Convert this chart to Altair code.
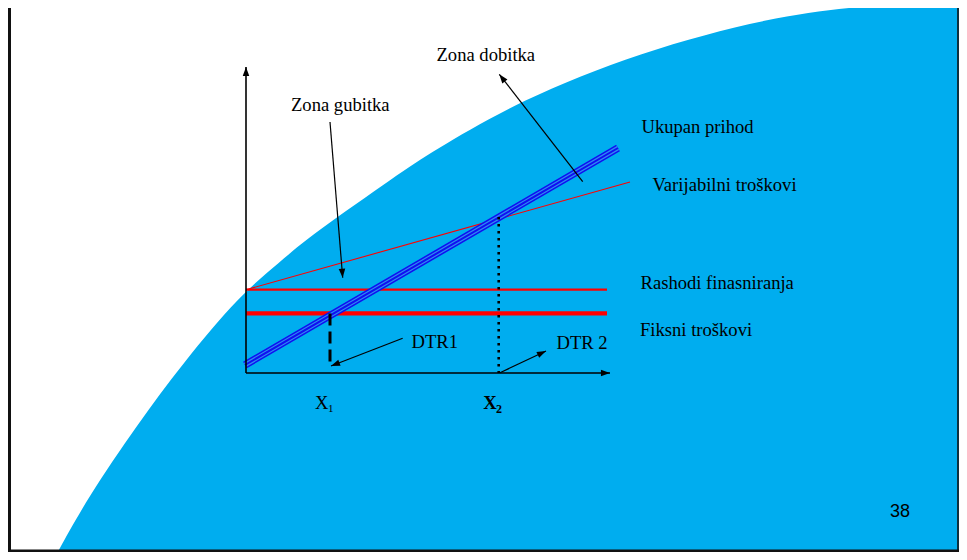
import altair as alt
import numpy as np
import pandas as pd

# ---- slide coordinate frame (slide pixels, y grows downwards) ----
X_MIN, X_MAX = 8, 959
Y_MIN, Y_MAX = 8, 552

# ---- blue background arc (edge points) ----
bg_x = [55, 88, 137, 183, 240, 280, 310, 400, 430, 520, 640, 770, 867, 967]
bg_y = [557, 497, 425, 363, 295, 262, 236, 173, 153, 100, 52, 17, 5, 1]
bg_bottom = 560

# ---- cost / revenue lines of the break-even diagram ----
line_names = ["Fiksni troškovi", "Rashodi finasniranja", "Varijabilni troškovi"]
line_x1 = [246, 246, 246]
line_y1 = [313.3, 289.7, 289.7]
line_x2 = [607, 607, 630]
line_y2 = [313.3, 289.7, 182]
line_w = [4.2, 2.2, 1.1]

tr_x1, tr_y1, tr_x2, tr_y2 = [245], [365], [618], [148]

# ---- break-even guides ----
x1_guide = dict(x1=[330], y1=[313.5], x2=[330], y2=[367])
x2_guide = dict(x1=[498.7], y1=[217], x2=[498.7], y2=[373])

# ---- arrows (shaft start -> tip) ----
arrow_names = ["y os", "x os", "Zona gubitka", "Zona dobitka", "DTR1", "DTR 2"]
arr_x1 = [246, 246, 330, 582.7, 402.7, 500]
arr_y1 = [373, 373, 122, 181.7, 338.3, 372.7]
arr_x2 = [246, 610, 342.7, 499.3, 331, 546]
arr_y2 = [67, 373, 277.7, 74.3, 366, 351]
arr_w = [1.6, 1.6, 1.2, 1.2, 1.2, 1.2]

# ---- labels ----
lab_text = ["Zona dobitka", "Zona gubitka", "Ukupan prihod", "Varijabilni troškovi",
            "Rashodi finasniranja", "Fiksni troškovi", "DTR1", "DTR 2", "X"]
lab_x = [436.5, 291, 641.5, 652.5, 640.5, 640, 411.5, 556.5, 315]
lab_y = [60.5, 111, 132.5, 191, 289, 335.5, 347.5, 349, 408.5]

sub_text = ["1"]
sub_x = [328]
sub_y = [412]

bold_text = ["X"]
bold_x = [483.3]
bold_y = [408.5]
bold_sub_text = ["2"]
bold_sub_x = [496]
bold_sub_y = [412.5]

page_text = ["38"]
page_x = [890]
page_y = [517]

# ---- frame of the slide ----
frame_x1 = [9.5, 8, 958]
frame_y1 = [8, 550.8, 8]
frame_x2 = [9.5, 959, 958]
frame_y2 = [552, 550.8, 552]
frame_w = [3, 2.6, 1.6]

BG_BLUE = "#00ADEF"

xs = alt.Scale(domain=[X_MIN, X_MAX], nice=False, zero=False)
ys = alt.Scale(domain=[Y_MIN, Y_MAX], nice=False, zero=False, reverse=True)


def seg_enc():
    return dict(
        x=alt.X("x1:Q", scale=xs, axis=None),
        y=alt.Y("y1:Q", scale=ys, axis=None),
        x2="x2:Q",
        y2="y2:Q",
    )


bg_df = pd.DataFrame({"x": bg_x, "y": bg_y})
background = alt.Chart(bg_df).mark_area(
    color=BG_BLUE, interpolate="basis", clip=True
).encode(
    x=alt.X("x:Q", scale=xs, axis=None),
    y=alt.Y("y:Q", scale=ys, axis=None),
    y2=alt.datum(bg_bottom),
)

lines_df = pd.DataFrame({"name": line_names, "x1": line_x1, "y1": line_y1,
                         "x2": line_x2, "y2": line_y2, "w": line_w})
red_lines = alt.Chart(lines_df).mark_rule(color="#FF0000", strokeCap="butt").encode(
    **seg_enc(), strokeWidth=alt.StrokeWidth("w:Q", scale=None)
)

tr_df = pd.DataFrame({"x1": tr_x1, "y1": tr_y1, "x2": tr_x2, "y2": tr_y2})
tr_outer = alt.Chart(tr_df).mark_rule(color="#1010F0", strokeWidth=7.5, strokeCap="butt").encode(**seg_enc())
tr_gap = alt.Chart(tr_df).mark_rule(color="#2C8CF2", strokeWidth=4.4, strokeCap="butt").encode(**seg_enc())
tr_inner = alt.Chart(tr_df).mark_rule(color="#1010F0", strokeWidth=2.0, strokeCap="butt").encode(**seg_enc())

g1 = alt.Chart(pd.DataFrame(x1_guide)).mark_rule(
    color="black", strokeWidth=3, strokeDash=[12, 6], strokeCap="butt"
).encode(**seg_enc())
g2 = alt.Chart(pd.DataFrame(x2_guide)).mark_rule(
    color="black", strokeWidth=2.6, strokeDash=[2.6, 4.4], strokeCap="butt"
).encode(**seg_enc())

arr_df = pd.DataFrame({"name": arrow_names, "x1": arr_x1, "y1": arr_y1,
                       "x2": arr_x2, "y2": arr_y2, "w": arr_w})
dx = arr_df["x2"] - arr_df["x1"]
dy = arr_df["y2"] - arr_df["y1"]
arr_df["angle"] = (np.degrees(np.arctan2(dx, -dy)) + 360) % 360

shafts = alt.Chart(arr_df).mark_rule(color="black").encode(
    **seg_enc(), strokeWidth=alt.StrokeWidth("w:Q", scale=None)
)
heads = alt.Chart(arr_df).mark_point(
    shape="M0,0L0.36,1L-0.36,1Z", filled=True, color="black", size=330, opacity=1
).encode(
    x=alt.X("x2:Q", scale=xs, axis=None),
    y=alt.Y("y2:Q", scale=ys, axis=None),
    angle=alt.Angle("angle:Q", scale=None),
)


def text_layer(t, xv, yv, size, font="Liberation Serif", weight="normal"):
    df = pd.DataFrame({"t": t, "x": xv, "y": yv})
    return alt.Chart(df).mark_text(
        align="left", baseline="alphabetic", font=font, fontSize=size,
        fontWeight=weight, color="black"
    ).encode(
        x=alt.X("x:Q", scale=xs, axis=None),
        y=alt.Y("y:Q", scale=ys, axis=None),
        text="t:N",
    )


labels = text_layer(lab_text, lab_x, lab_y, 18.6)
subs = text_layer(sub_text, sub_x, sub_y, 11)
bold = text_layer(bold_text, bold_x, bold_y, 18.6, weight="bold")
bold_subs = text_layer(bold_sub_text, bold_sub_x, bold_sub_y, 12, weight="bold")
page = text_layer(page_text, page_x, page_y, 18, font="Liberation Sans")

frame_df = pd.DataFrame({"x1": frame_x1, "y1": frame_y1, "x2": frame_x2,
                         "y2": frame_y2, "w": frame_w})
frame = alt.Chart(frame_df).mark_rule(color="#111111", strokeCap="butt").encode(
    **seg_enc(), strokeWidth=alt.StrokeWidth("w:Q", scale=None)
)

chart = alt.layer(
    background, red_lines, tr_outer, tr_gap, tr_inner, g1, g2, shafts, heads,
    labels, subs, bold, bold_subs, page, frame
).properties(
    width=X_MAX - X_MIN,
    height=Y_MAX - Y_MIN,
    padding=0,
    autosize=alt.AutoSizeParams(type="none"),
    background="white",
).configure_view(stroke=None)

chart.save("out.html", embed_options={"renderer": "svg", "actions": False})
